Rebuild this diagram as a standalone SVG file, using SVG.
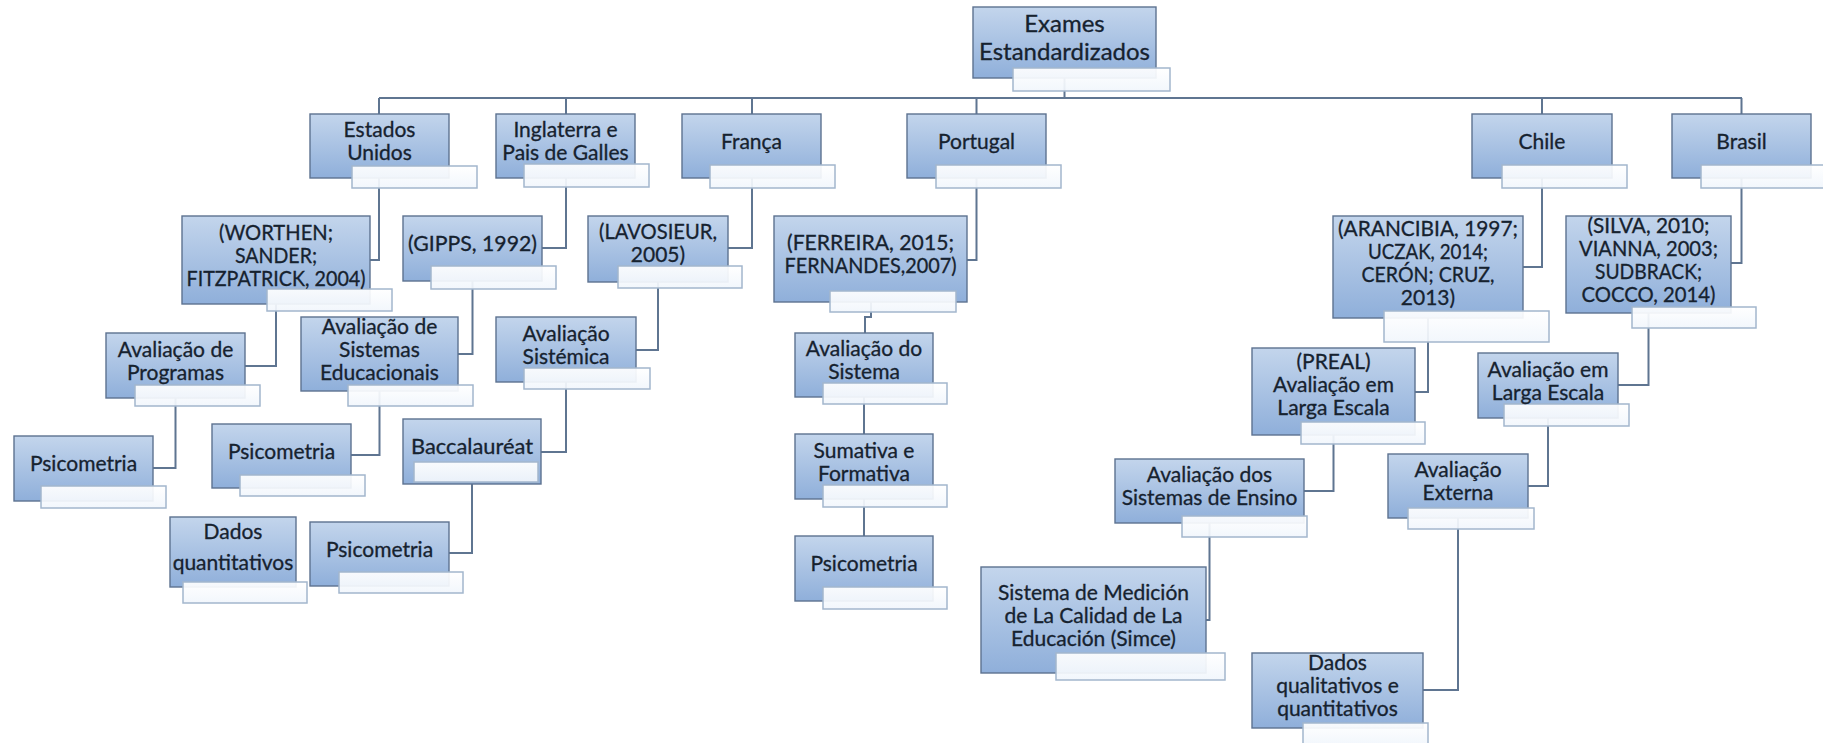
<svg xmlns="http://www.w3.org/2000/svg" width="1823" height="743" viewBox="0 0 1823 743">
<style>
.box{fill:url(#bg);stroke:#5d7290;stroke-width:1.4}
.lbl{fill:url(#lg);stroke:#a3b6cd;stroke-width:1.5;fill-opacity:0.93}
.t{font-family:Lato,"Liberation Sans",sans-serif;font-size:21px;fill:#16222f;stroke:#16222f;stroke-width:0.3;text-anchor:middle}
.conn{fill:none;stroke:#5f7591;stroke-width:2}
</style>
<defs>
<linearGradient id="bg" x1="0" y1="0" x2="0" y2="1">
<stop offset="0" stop-color="#c3d5ec"/>
<stop offset="1" stop-color="#8fafda"/>
</linearGradient>
<linearGradient id="lg" x1="0" y1="0" x2="0" y2="1">
<stop offset="0" stop-color="#ffffff"/>
<stop offset="1" stop-color="#f1f6fc"/>
</linearGradient>
</defs>
<rect width="1823" height="743" fill="#ffffff"/>
<g id="connectors" class="conn">
<path d="M1064.5 78 V98"/>
<path d="M379 98 H1742"/>
<path d="M379 98 V114 M566 98 V114 M752 98 V114 M976.5 98 V114 M1542 98 V114 M1741.5 98 V114"/>
<path d="M379 178 V260 H370"/>
<path d="M566 178 V248 H542"/>
<path d="M752 178 V248 H728"/>
<path d="M976.5 178 V260 H967"/>
<path d="M1542 178 V267 H1523"/>
<path d="M1741.5 178 V263 H1731"/>
<path d="M276 304 V366 H245"/>
<path d="M472.5 281 V354 H458"/>
<path d="M658 282 V350 H636"/>
<path d="M871 302 V317 H865 V333"/>
<path d="M1428 318 V392 H1415"/>
<path d="M1648.5 313 V385 H1618"/>
<path d="M175.5 398 V468 H153"/>
<path d="M379.5 391 V455 H351"/>
<path d="M566 382 V452 H541"/>
<path d="M864 397 V434"/>
<path d="M1333.5 435 V491 H1304"/>
<path d="M1548 418 V486 H1528"/>
<path d="M472 484 V553 H449"/>
<path d="M864 499 V536"/>
<path d="M1209.5 523 V620 H1206"/>
<path d="M1458 518 V690 H1423"/>
</g>
<g id="n-root"><rect class="box" x="973" y="7" width="183" height="71"/><rect class="lbl" x="1013" y="68" width="157" height="23"/><text class="t" style="font-size:24px"><tspan x="1064.5" y="32">Exames</tspan><tspan x="1064.5" y="60">Estandardizados</tspan></text></g>
<g id="n-eua"><rect class="box" x="310" y="114" width="139" height="64"/><rect class="lbl" x="352" y="166" width="125" height="22"/><text class="t"><tspan x="379.5" y="137">Estados</tspan><tspan x="379.5" y="160">Unidos</tspan></text></g>
<g id="n-ing"><rect class="box" x="496" y="114" width="139" height="64"/><rect class="lbl" x="524" y="164" width="125" height="23"/><text class="t"><tspan x="565.5" y="137">Inglaterra e</tspan><tspan x="565.5" y="160">Pais de Galles</tspan></text></g>
<g id="n-fra"><rect class="box" x="682" y="114" width="139" height="64"/><rect class="lbl" x="710" y="165" width="125" height="23"/><text class="t" x="751.5" y="148.5">França</text></g>
<g id="n-por"><rect class="box" x="907" y="114" width="139" height="64"/><rect class="lbl" x="936" y="165" width="125" height="23"/><text class="t" x="976.5" y="148.5">Portugal</text></g>
<g id="n-chi"><rect class="box" x="1472" y="114" width="140" height="64"/><rect class="lbl" x="1502" y="165" width="125" height="23"/><text class="t" x="1542" y="148.5">Chile</text></g>
<g id="n-bra"><rect class="box" x="1672" y="114" width="139" height="64"/><rect class="lbl" x="1701" y="165" width="125" height="23"/><text class="t" x="1741.5" y="148.5">Brasil</text></g>
<g id="n-worthen"><rect class="box" x="182" y="216" width="188" height="88"/><rect class="lbl" x="267" y="289" width="125" height="22"/><text class="t"><tspan x="276" y="239.5" textLength="114" lengthAdjust="spacingAndGlyphs">(WORTHEN;</tspan><tspan x="276" y="262.5" textLength="82" lengthAdjust="spacingAndGlyphs">SANDER;</tspan><tspan x="276" y="285.5" textLength="179" lengthAdjust="spacingAndGlyphs">FITZPATRICK, 2004)</tspan></text></g>
<g id="n-gipps"><rect class="box" x="403" y="216" width="139" height="65"/><rect class="lbl" x="431" y="266" width="125" height="23"/><text class="t" x="472.5" y="251" textLength="129" lengthAdjust="spacingAndGlyphs">(GIPPS, 1992)</text></g>
<g id="n-lavosieur"><rect class="box" x="588" y="216" width="140" height="66"/><rect class="lbl" x="618" y="266" width="124" height="22"/><text class="t"><tspan x="658" y="239" textLength="118" lengthAdjust="spacingAndGlyphs">(LAVOSIEUR,</tspan><tspan x="658" y="262">2005)</tspan></text></g>
<g id="n-ferreira"><rect class="box" x="774" y="216" width="193" height="86"/><rect class="lbl" x="830" y="291" width="126" height="21"/><text class="t"><tspan x="870.5" y="250" textLength="167" lengthAdjust="spacingAndGlyphs">(FERREIRA, 2015;</tspan><tspan x="870.5" y="273" textLength="172" lengthAdjust="spacingAndGlyphs">FERNANDES,2007)</tspan></text></g>
<g id="n-arancibia"><rect class="box" x="1333" y="216" width="190" height="102"/><rect class="lbl" x="1384" y="311" width="165" height="31"/><text class="t"><tspan x="1428" y="236" textLength="180" lengthAdjust="spacingAndGlyphs">(ARANCIBIA, 1997;</tspan><tspan x="1428" y="259" textLength="120" lengthAdjust="spacingAndGlyphs">UCZAK, 2014;</tspan><tspan x="1428" y="282" textLength="133" lengthAdjust="spacingAndGlyphs">CERÓN; CRUZ,</tspan><tspan x="1428" y="305">2013)</tspan></text></g>
<g id="n-silva"><rect class="box" x="1566" y="216" width="165" height="97"/><rect class="lbl" x="1632" y="307" width="124" height="21"/><text class="t"><tspan x="1648.5" y="232.5" textLength="122" lengthAdjust="spacingAndGlyphs">(SILVA, 2010;</tspan><tspan x="1648.5" y="255.5" textLength="139" lengthAdjust="spacingAndGlyphs">VIANNA, 2003;</tspan><tspan x="1648.5" y="278.5" textLength="107" lengthAdjust="spacingAndGlyphs">SUDBRACK;</tspan><tspan x="1648.5" y="301.5" textLength="134" lengthAdjust="spacingAndGlyphs">COCCO, 2014)</tspan></text></g>
<g id="n-programas"><rect class="box" x="106" y="333" width="139" height="65"/><rect class="lbl" x="135" y="385" width="125" height="21"/><text class="t"><tspan x="175.5" y="356.5">Avaliação de</tspan><tspan x="175.5" y="379.5">Programas</tspan></text></g>
<g id="n-sisteduc"><rect class="box" x="301" y="317" width="157" height="74"/><rect class="lbl" x="348" y="385" width="125" height="21"/><text class="t"><tspan x="379.5" y="333.5">Avaliação de</tspan><tspan x="379.5" y="356.5">Sistemas</tspan><tspan x="379.5" y="379.5">Educacionais</tspan></text></g>
<g id="n-sistemica"><rect class="box" x="496" y="317" width="140" height="65"/><rect class="lbl" x="524" y="368" width="126" height="21"/><text class="t"><tspan x="566" y="340.5">Avaliação</tspan><tspan x="566" y="363.5">Sistémica</tspan></text></g>
<g id="n-avsistema"><rect class="box" x="795" y="333" width="138" height="64"/><rect class="lbl" x="823" y="383" width="124" height="21"/><text class="t"><tspan x="864" y="356">Avaliação do</tspan><tspan x="864" y="379">Sistema</tspan></text></g>
<g id="n-preal"><rect class="box" x="1252" y="348" width="163" height="87"/><rect class="lbl" x="1301" y="422" width="124" height="22"/><text class="t"><tspan x="1333.5" y="369" textLength="74" lengthAdjust="spacingAndGlyphs">(PREAL)</tspan><tspan x="1333.5" y="392">Avaliação em</tspan><tspan x="1333.5" y="415">Larga Escala</tspan></text></g>
<g id="n-brlarga"><rect class="box" x="1478" y="353" width="140" height="65"/><rect class="lbl" x="1504" y="404" width="125" height="22"/><text class="t"><tspan x="1548" y="376.5">Avaliação em</tspan><tspan x="1548" y="399.5">Larga Escala</tspan></text></g>
<g id="n-psico1"><rect class="box" x="14" y="436" width="139" height="65"/><rect class="lbl" x="41" y="486" width="125" height="22"/><text class="t" x="83.5" y="471">Psicometria</text></g>
<g id="n-psico2"><rect class="box" x="212" y="424" width="139" height="64"/><rect class="lbl" x="240" y="475" width="125" height="21"/><text class="t" x="281.5" y="458.5">Psicometria</text></g>
<g id="n-bacc"><rect class="box" x="403" y="419" width="138" height="65"/><rect class="lbl" x="414" y="462" width="124" height="20"/><text class="t" x="472" y="454" textLength="122" lengthAdjust="spacingAndGlyphs">Baccalauréat</text></g>
<g id="n-sumativa"><rect class="box" x="795" y="434" width="138" height="65"/><rect class="lbl" x="823" y="485" width="124" height="22"/><text class="t"><tspan x="864" y="457.5">Sumativa e</tspan><tspan x="864" y="480.5">Formativa</tspan></text></g>
<g id="n-avsistensino"><rect class="box" x="1115" y="459" width="189" height="64"/><rect class="lbl" x="1182" y="516" width="125" height="21"/><text class="t"><tspan x="1209.5" y="482">Avaliação dos</tspan><tspan x="1209.5" y="505">Sistemas de Ensino</tspan></text></g>
<g id="n-avexterna"><rect class="box" x="1388" y="454" width="140" height="64"/><rect class="lbl" x="1408" y="508" width="126" height="21"/><text class="t"><tspan x="1458" y="477">Avaliação</tspan><tspan x="1458" y="500">Externa</tspan></text></g>
<g id="n-psico3"><rect class="box" x="310" y="522" width="139" height="64"/><rect class="lbl" x="339" y="572" width="124" height="21"/><text class="t" x="379.5" y="556.5">Psicometria</text></g>
<g id="n-dadosquant"><rect class="box" x="170" y="517" width="126" height="70"/><rect class="lbl" x="183" y="582" width="124" height="21"/><text class="t"><tspan x="233" y="539">Dados</tspan><tspan x="233" y="570">quantitativos</tspan></text></g>
<g id="n-psicopt"><rect class="box" x="795" y="536" width="138" height="65"/><rect class="lbl" x="823" y="587" width="124" height="22"/><text class="t" x="864" y="571">Psicometria</text></g>
<g id="n-simce"><rect class="box" x="981" y="567" width="225" height="106"/><rect class="lbl" x="1056" y="653" width="169" height="27"/><text class="t"><tspan x="1093.5" y="599.5">Sistema de Medición</tspan><tspan x="1093.5" y="622.5">de La Calidad de La</tspan><tspan x="1093.5" y="645.5">Educación (Simce)</tspan></text></g>
<g id="n-dadosqual"><rect class="box" x="1252" y="653" width="171" height="75"/><rect class="lbl" x="1303" y="723" width="125" height="22"/><text class="t"><tspan x="1337.5" y="670">Dados</tspan><tspan x="1337.5" y="693">qualitativos e</tspan><tspan x="1337.5" y="716">quantitativos</tspan></text></g>
</svg>
